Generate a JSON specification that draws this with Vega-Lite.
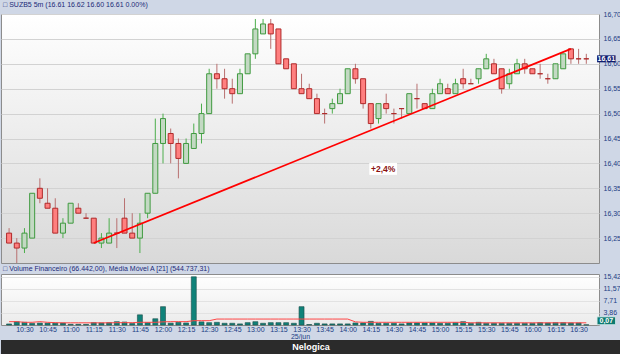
{
  "$schema": "https://vega.github.io/schema/vega-lite/v6.json",
  "padding": 0,
  "spacing": 0,
  "background": "#cfd7e6",
  "config": {
    "font": "Liberation Sans",
    "view": {"stroke": "#8c8c8c"},
    "title": {"anchor": "start", "frame": "group", "fontSize": 7, "fontWeight": "normal", "color": "#1b2a78", "font": "Liberation Sans", "dx": 2},
    "axis": {"labelFont": "Liberation Sans", "labelFontSize": 7, "labelColor": "#1b3d84", "ticks": false, "domain": false}
  },
  "datasets": {
    "candles": [
      {"t":"2024-06-25T10:20","o":16.26,"h":16.27,"l":16.24,"c":16.24,"v":0.34,"ma":1.07},
      {"t":"2024-06-25T10:25","o":16.24,"h":16.25,"l":16.20,"c":16.23,"v":1.06,"ma":1.07},
      {"t":"2024-06-25T10:30","o":16.23,"h":16.27,"l":16.22,"c":16.26,"v":0.85,"ma":0.86},
      {"t":"2024-06-25T10:35","o":16.25,"h":16.34,"l":16.25,"c":16.34,"v":0.53,"ma":0.86},
      {"t":"2024-06-25T10:40","o":16.35,"h":16.37,"l":16.32,"c":16.33,"v":0.62,"ma":1.07},
      {"t":"2024-06-25T10:45","o":16.32,"h":16.35,"l":16.31,"c":16.31,"v":0.6,"ma":0.86},
      {"t":"2024-06-25T10:50","o":16.31,"h":16.33,"l":16.26,"c":16.26,"v":0.6,"ma":0.75},
      {"t":"2024-06-25T10:55","o":16.26,"h":16.29,"l":16.25,"c":16.28,"v":0.6,"ma":0.7},
      {"t":"2024-06-25T11:00","o":16.28,"h":16.32,"l":16.28,"c":16.32,"v":0.22,"ma":0.7},
      {"t":"2024-06-25T11:05","o":16.31,"h":16.32,"l":16.30,"c":16.30,"v":0.22,"ma":0.7},
      {"t":"2024-06-25T11:10","o":16.29,"h":16.30,"l":16.29,"c":16.29,"v":0.2,"ma":0.7},
      {"t":"2024-06-25T11:15","o":16.29,"h":16.29,"l":16.24,"c":16.24,"v":0.75,"ma":0.7},
      {"t":"2024-06-25T11:20","o":16.24,"h":16.26,"l":16.23,"c":16.25,"v":0.65,"ma":0.7},
      {"t":"2024-06-25T11:25","o":16.24,"h":16.29,"l":16.24,"c":16.26,"v":0.75,"ma":0.7},
      {"t":"2024-06-25T11:30","o":16.26,"h":16.29,"l":16.23,"c":16.26,"v":1.06,"ma":0.75},
      {"t":"2024-06-25T11:35","o":16.29,"h":16.33,"l":16.26,"c":16.26,"v":0.95,"ma":0.75},
      {"t":"2024-06-25T11:40","o":16.26,"h":16.30,"l":16.25,"c":16.25,"v":0.5,"ma":0.75},
      {"t":"2024-06-25T11:45","o":16.25,"h":16.30,"l":16.22,"c":16.28,"v":3.26,"ma":0.86},
      {"t":"2024-06-25T11:50","o":16.30,"h":16.34,"l":16.29,"c":16.34,"v":0.75,"ma":0.86},
      {"t":"2024-06-25T11:55","o":16.34,"h":16.49,"l":16.34,"c":16.44,"v":2.0,"ma":0.86},
      {"t":"2024-06-25T12:00","o":16.44,"h":16.50,"l":16.40,"c":16.49,"v":5.86,"ma":1.0},
      {"t":"2024-06-25T12:05","o":16.46,"h":16.47,"l":16.40,"c":16.44,"v":0.6,"ma":1.07},
      {"t":"2024-06-25T12:10","o":16.44,"h":16.45,"l":16.37,"c":16.41,"v":0.85,"ma":1.07},
      {"t":"2024-06-25T12:15","o":16.40,"h":16.45,"l":16.40,"c":16.44,"v":0.65,"ma":1.07},
      {"t":"2024-06-25T12:20","o":16.43,"h":16.48,"l":16.43,"c":16.46,"v":15.42,"ma":1.38},
      {"t":"2024-06-25T12:25","o":16.46,"h":16.52,"l":16.44,"c":16.50,"v":1.0,"ma":1.38},
      {"t":"2024-06-25T12:30","o":16.50,"h":16.59,"l":16.50,"c":16.58,"v":0.75,"ma":1.38},
      {"t":"2024-06-25T12:35","o":16.58,"h":16.60,"l":16.55,"c":16.57,"v":0.85,"ma":1.9},
      {"t":"2024-06-25T12:40","o":16.57,"h":16.59,"l":16.53,"c":16.55,"v":0.55,"ma":1.9},
      {"t":"2024-06-25T12:45","o":16.55,"h":16.57,"l":16.52,"c":16.54,"v":0.55,"ma":1.9},
      {"t":"2024-06-25T12:50","o":16.54,"h":16.59,"l":16.54,"c":16.58,"v":0.35,"ma":1.9},
      {"t":"2024-06-25T12:55","o":16.58,"h":16.62,"l":16.58,"c":16.62,"v":0.75,"ma":1.9},
      {"t":"2024-06-25T13:00","o":16.62,"h":16.69,"l":16.61,"c":16.67,"v":1.06,"ma":1.9},
      {"t":"2024-06-25T13:05","o":16.66,"h":16.69,"l":16.66,"c":16.68,"v":0.55,"ma":1.9},
      {"t":"2024-06-25T13:10","o":16.68,"h":16.69,"l":16.63,"c":16.66,"v":0.75,"ma":1.9},
      {"t":"2024-06-25T13:15","o":16.67,"h":16.67,"l":16.60,"c":16.60,"v":0.75,"ma":1.9},
      {"t":"2024-06-25T13:20","o":16.61,"h":16.61,"l":16.59,"c":16.59,"v":0.75,"ma":1.9},
      {"t":"2024-06-25T13:25","o":16.60,"h":16.60,"l":16.55,"c":16.55,"v":0.55,"ma":1.9},
      {"t":"2024-06-25T13:30","o":16.55,"h":16.58,"l":16.54,"c":16.54,"v":5.86,"ma":1.9},
      {"t":"2024-06-25T13:35","o":16.55,"h":16.56,"l":16.53,"c":16.53,"v":0.15,"ma":1.9},
      {"t":"2024-06-25T13:40","o":16.53,"h":16.54,"l":16.50,"c":16.50,"v":0.55,"ma":1.9},
      {"t":"2024-06-25T13:45","o":16.50,"h":16.51,"l":16.48,"c":16.50,"v":0.35,"ma":1.9},
      {"t":"2024-06-25T13:50","o":16.51,"h":16.53,"l":16.50,"c":16.52,"v":0.35,"ma":1.9},
      {"t":"2024-06-25T13:55","o":16.52,"h":16.55,"l":16.52,"c":16.54,"v":0.35,"ma":1.9},
      {"t":"2024-06-25T14:00","o":16.54,"h":16.59,"l":16.54,"c":16.59,"v":0.35,"ma":1.9},
      {"t":"2024-06-25T14:05","o":16.59,"h":16.60,"l":16.56,"c":16.57,"v":0.65,"ma":1.0},
      {"t":"2024-06-25T14:10","o":16.57,"h":16.57,"l":16.51,"c":16.52,"v":0.65,"ma":0.86},
      {"t":"2024-06-25T14:15","o":16.52,"h":16.52,"l":16.47,"c":16.48,"v":1.16,"ma":0.86},
      {"t":"2024-06-25T14:20","o":16.49,"h":16.52,"l":16.48,"c":16.52,"v":0.55,"ma":0.86},
      {"t":"2024-06-25T14:25","o":16.52,"h":16.54,"l":16.50,"c":16.51,"v":0.55,"ma":0.86},
      {"t":"2024-06-25T14:30","o":16.50,"h":16.51,"l":16.48,"c":16.50,"v":0.55,"ma":0.86},
      {"t":"2024-06-25T14:35","o":16.51,"h":16.51,"l":16.49,"c":16.51,"v":0.35,"ma":0.86},
      {"t":"2024-06-25T14:40","o":16.50,"h":16.54,"l":16.50,"c":16.54,"v":0.65,"ma":0.86},
      {"t":"2024-06-25T14:45","o":16.53,"h":16.56,"l":16.51,"c":16.53,"v":0.65,"ma":0.86},
      {"t":"2024-06-25T14:50","o":16.52,"h":16.52,"l":16.51,"c":16.51,"v":0.65,"ma":0.86},
      {"t":"2024-06-25T14:55","o":16.51,"h":16.55,"l":16.51,"c":16.54,"v":0.65,"ma":0.86},
      {"t":"2024-06-25T15:00","o":16.54,"h":16.57,"l":16.54,"c":16.56,"v":0.55,"ma":0.86},
      {"t":"2024-06-25T15:05","o":16.55,"h":16.56,"l":16.54,"c":16.54,"v":0.55,"ma":0.86},
      {"t":"2024-06-25T15:10","o":16.54,"h":16.57,"l":16.54,"c":16.56,"v":0.75,"ma":0.86},
      {"t":"2024-06-25T15:15","o":16.57,"h":16.59,"l":16.55,"c":16.56,"v":1.06,"ma":0.86},
      {"t":"2024-06-25T15:20","o":16.56,"h":16.57,"l":16.56,"c":16.56,"v":0.55,"ma":0.7},
      {"t":"2024-06-25T15:25","o":16.57,"h":16.59,"l":16.56,"c":16.59,"v":0.85,"ma":0.7},
      {"t":"2024-06-25T15:30","o":16.59,"h":16.62,"l":16.59,"c":16.61,"v":0.55,"ma":0.7},
      {"t":"2024-06-25T15:35","o":16.60,"h":16.61,"l":16.58,"c":16.58,"v":0.55,"ma":0.7},
      {"t":"2024-06-25T15:40","o":16.59,"h":16.59,"l":16.54,"c":16.55,"v":0.55,"ma":0.7},
      {"t":"2024-06-25T15:45","o":16.56,"h":16.59,"l":16.55,"c":16.58,"v":0.55,"ma":0.7},
      {"t":"2024-06-25T15:50","o":16.58,"h":16.61,"l":16.58,"c":16.60,"v":0.55,"ma":0.7},
      {"t":"2024-06-25T15:55","o":16.60,"h":16.61,"l":16.58,"c":16.59,"v":0.55,"ma":0.7},
      {"t":"2024-06-25T16:00","o":16.59,"h":16.59,"l":16.58,"c":16.58,"v":0.55,"ma":0.7},
      {"t":"2024-06-25T16:05","o":16.58,"h":16.60,"l":16.57,"c":16.58,"v":0.75,"ma":0.7},
      {"t":"2024-06-25T16:10","o":16.57,"h":16.58,"l":16.56,"c":16.57,"v":0.65,"ma":0.7},
      {"t":"2024-06-25T16:15","o":16.57,"h":16.60,"l":16.57,"c":16.60,"v":0.75,"ma":0.7},
      {"t":"2024-06-25T16:20","o":16.59,"h":16.62,"l":16.59,"c":16.62,"v":0.75,"ma":0.7},
      {"t":"2024-06-25T16:25","o":16.63,"h":16.63,"l":16.60,"c":16.61,"v":0.65,"ma":0.7},
      {"t":"2024-06-25T16:30","o":16.61,"h":16.63,"l":16.60,"c":16.61,"v":0.65,"ma":0.7},
      {"t":"2024-06-25T16:35","o":16.61,"h":16.62,"l":16.60,"c":16.61,"v":0.07,"ma":0.7}
    ],
    "trend": [
      {"t":"2024-06-25T11:15","p":16.24},
      {"t":"2024-06-25T16:25","p":16.63}
    ],
    "notes": [
      {"t":"2024-06-25T14:23","p":16.389,"label":"+2,4%"}
    ],
    "lastp": [
      {"t":"2024-06-25T16:48","p":16.61,"plabel":"16,61","v":1.35,"vlabel":"0,07"}
    ]
  },
  "vconcat": [
    {
      "width": 598,
      "height": 249,
      "title": {"text": "□ SUZB5 5m (16.61  16.62  16.60  16.61  0.00%)", "offset": 2},
      "view": {"fill": {"gradient": "linear", "x1": 0, "y1": 0, "x2": 0, "y2": 1, "stops": [{"offset": 0, "color": "#ffffff"}, {"offset": 1, "color": "#d9d9d9"}]}},
      "resolve": {"axis": {"x": "independent", "y": "independent"}},
      "layer": [
        {
          "data": {"name": "candles"},
          "mark": {"type": "rule", "strokeWidth": 1},
          "encoding": {
            "x": {"field": "t", "type": "temporal", "scale": {"domain": [{"year":2024,"month":6,"date":25,"hours":10,"minutes":18}, {"year":2024,"month":6,"date":25,"hours":16,"minutes":40}]}, "axis": null},
            "y": {"field": "l", "type": "quantitative", "scale": {"domain": [16.2, 16.7], "nice": false, "zero": false},
                  "axis": {"orient": "right", "values": [16.25,16.3,16.35,16.4,16.45,16.5,16.55,16.6,16.65,16.7], "labelExpr": "replace(format(datum.value, '.2f'), '.', ',')", "title": null, "grid": true, "gridColor": "#d2d2d2", "labelPadding": 4}},
            "y2": {"field": "h"},
            "color": {"condition": {"test": "datum.c > datum.o", "value": "#4cae4c"}, "value": "#b87070"}
          }
        },
        {
          "data": {"name": "candles"},
          "mark": {"type": "bar", "size": 5, "strokeWidth": 1},
          "encoding": {
            "x": {"field": "t", "type": "temporal", "axis": null},
            "y": {"field": "o", "type": "quantitative", "axis": null},
            "y2": {"field": "c"},
            "fill": {"condition": {"test": "datum.c > datum.o", "value": "#c3d9c3"}, "value": "#ff7f7f"},
            "stroke": {"condition": {"test": "datum.c > datum.o", "value": "#3f9a3f"}, "value": "#b02a2a"}
          }
        },
        {
          "data": {"name": "trend"},
          "mark": {"type": "line", "color": "#ff0000", "strokeWidth": 1.7},
          "encoding": {
            "x": {"field": "t", "type": "temporal", "axis": null},
            "y": {"field": "p", "type": "quantitative", "axis": null}
          }
        },
        {
          "data": {"name": "notes"},
          "mark": {"type": "rect", "fill": "#ffffff"},
          "encoding": {
            "x": {"datum": {"year":2024,"month":6,"date":25,"hours":14,"minutes":14}, "type": "temporal", "axis": null},
            "x2": {"datum": {"year":2024,"month":6,"date":25,"hours":14,"minutes":32}},
            "y": {"datum": 16.401, "type": "quantitative", "axis": null},
            "y2": {"datum": 16.377}
          }
        },
        {
          "data": {"name": "notes"},
          "mark": {"type": "text", "color": "#8b1010", "fontSize": 8.5, "fontWeight": "bold"},
          "encoding": {
            "x": {"field": "t", "type": "temporal", "axis": null},
            "y": {"field": "p", "type": "quantitative", "axis": null},
            "text": {"field": "label", "type": "nominal"}
          }
        },
        {
          "data": {"name": "lastp"},
          "mark": {"type": "rect", "fill": "#101c6e"},
          "encoding": {
            "x": {"datum": {"year":2024,"month":6,"date":25,"hours":16,"minutes":42}, "type": "temporal", "axis": null},
            "x2": {"datum": {"year":2024,"month":6,"date":25,"hours":16,"minutes":54}},
            "y": {"datum": 16.617, "type": "quantitative", "axis": null},
            "y2": {"datum": 16.603}
          }
        },
        {
          "data": {"name": "lastp"},
          "mark": {"type": "text", "color": "#ffffff", "fontSize": 7, "fontWeight": "bold"},
          "encoding": {
            "x": {"field": "t", "type": "temporal", "axis": null},
            "y": {"field": "p", "type": "quantitative", "axis": null},
            "text": {"field": "plabel", "type": "nominal"}
          }
        }
      ]
    },
    {
      "width": 598,
      "height": 51,
      "title": {"text": "□ Volume Financeiro (66.442,00), Média Móvel A [21] (544.737,31)", "offset": 1},
      "view": {"fill": {"gradient": "linear", "x1": 0, "y1": 0, "x2": 0, "y2": 1, "stops": [{"offset": 0, "color": "#ffffff"}, {"offset": 1, "color": "#ebebeb"}]}},
      "resolve": {"axis": {"x": "independent", "y": "independent"}},
      "layer": [
        {
          "data": {"name": "candles"},
          "mark": {"type": "bar", "size": 5, "fill": "#0f8279", "stroke": "#1d4d49", "strokeWidth": 0.6},
          "encoding": {
            "x": {"field": "t", "type": "temporal", "scale": {"domain": [{"year":2024,"month":6,"date":25,"hours":10,"minutes":18}, {"year":2024,"month":6,"date":25,"hours":16,"minutes":40}]},
                  "axis": {"format": "%H:%M", "values": [
                    {"year":2024,"month":6,"date":25,"hours":10,"minutes":30},
                    {"year":2024,"month":6,"date":25,"hours":10,"minutes":45},
                    {"year":2024,"month":6,"date":25,"hours":11,"minutes":0},
                    {"year":2024,"month":6,"date":25,"hours":11,"minutes":15},
                    {"year":2024,"month":6,"date":25,"hours":11,"minutes":30},
                    {"year":2024,"month":6,"date":25,"hours":11,"minutes":45},
                    {"year":2024,"month":6,"date":25,"hours":12,"minutes":0},
                    {"year":2024,"month":6,"date":25,"hours":12,"minutes":15},
                    {"year":2024,"month":6,"date":25,"hours":12,"minutes":30},
                    {"year":2024,"month":6,"date":25,"hours":12,"minutes":45},
                    {"year":2024,"month":6,"date":25,"hours":13,"minutes":0},
                    {"year":2024,"month":6,"date":25,"hours":13,"minutes":15},
                    {"year":2024,"month":6,"date":25,"hours":13,"minutes":30},
                    {"year":2024,"month":6,"date":25,"hours":13,"minutes":45},
                    {"year":2024,"month":6,"date":25,"hours":14,"minutes":0},
                    {"year":2024,"month":6,"date":25,"hours":14,"minutes":15},
                    {"year":2024,"month":6,"date":25,"hours":14,"minutes":30},
                    {"year":2024,"month":6,"date":25,"hours":14,"minutes":45},
                    {"year":2024,"month":6,"date":25,"hours":15,"minutes":0},
                    {"year":2024,"month":6,"date":25,"hours":15,"minutes":15},
                    {"year":2024,"month":6,"date":25,"hours":15,"minutes":30},
                    {"year":2024,"month":6,"date":25,"hours":15,"minutes":45},
                    {"year":2024,"month":6,"date":25,"hours":16,"minutes":0},
                    {"year":2024,"month":6,"date":25,"hours":16,"minutes":15},
                    {"year":2024,"month":6,"date":25,"hours":16,"minutes":30}
                  ], "title": "25/jun", "labelPadding": 0, "titlePadding": 0, "titleFontSize": 7, "titleFontWeight": "normal", "titleColor": "#1b3d84", "titleFont": "Liberation Sans", "grid": false}},
            "y": {"field": "v", "type": "quantitative", "scale": {"domain": [0, 16.3], "nice": false},
                  "axis": {"orient": "right", "values": [3.856, 7.71, 11.566, 15.42], "labelExpr": "replace(format(datum.value, '.2f'), '.', ',')", "title": null, "grid": true, "gridColor": "#e2e2e2", "labelPadding": 4}}
          }
        },
        {
          "data": {"name": "candles"},
          "mark": {"type": "line", "color": "#ff4646", "strokeWidth": 1},
          "encoding": {
            "x": {"field": "t", "type": "temporal", "axis": null},
            "y": {"field": "ma", "type": "quantitative", "axis": null}
          }
        },
        {
          "data": {"name": "lastp"},
          "mark": {"type": "rect", "fill": "#0d7a70", "stroke": "#d8eeee", "strokeWidth": 0.8},
          "encoding": {
            "x": {"datum": {"year":2024,"month":6,"date":25,"hours":16,"minutes":42}, "type": "temporal", "axis": null},
            "x2": {"datum": {"year":2024,"month":6,"date":25,"hours":16,"minutes":54}},
            "y": {"datum": 0.1, "type": "quantitative", "axis": null},
            "y2": {"datum": 2.6}
          }
        },
        {
          "data": {"name": "lastp"},
          "mark": {"type": "text", "color": "#ffffff", "fontSize": 7, "fontWeight": "bold"},
          "encoding": {
            "x": {"field": "t", "type": "temporal", "axis": null},
            "y": {"field": "v", "type": "quantitative", "axis": null},
            "text": {"field": "vlabel", "type": "nominal"}
          }
        }
      ]
    },
    {
      "width": 620,
      "height": 14,
      "view": {"fill": "#2b2b2b", "stroke": null},
      "data": {"values": [{"brand": "Nelogica"}]},
      "mark": {"type": "text", "color": "#ffffff", "fontSize": 9, "fontWeight": "bold", "font": "Liberation Sans"},
      "encoding": {"text": {"field": "brand"}}
    }
  ]
}
